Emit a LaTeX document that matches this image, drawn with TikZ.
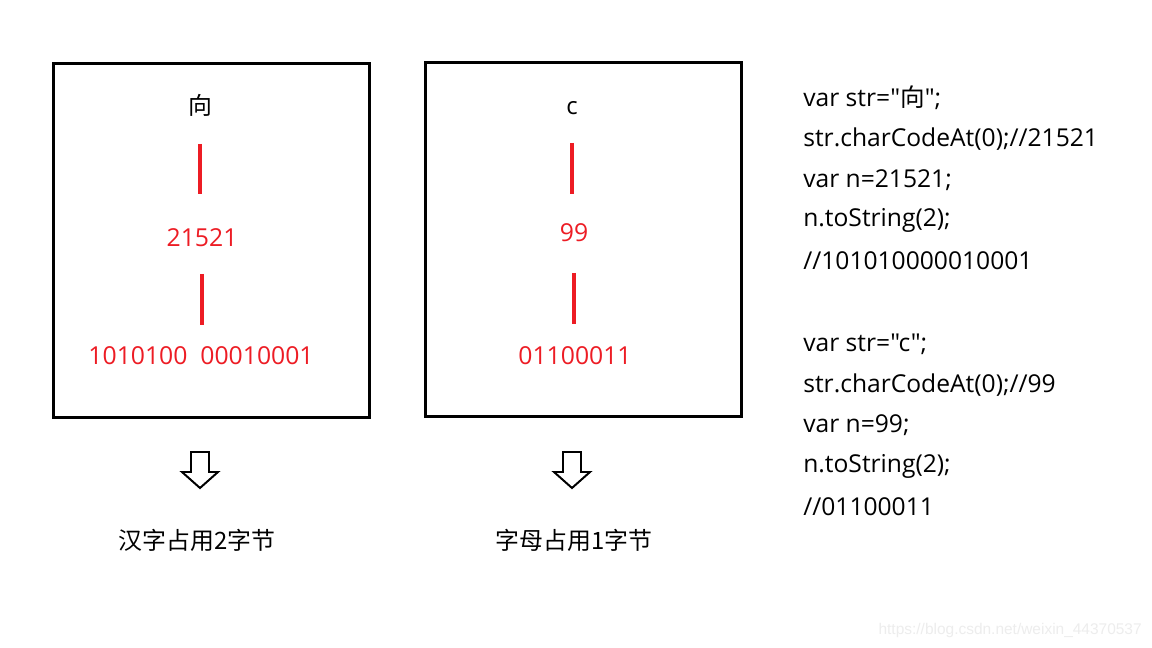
\documentclass[tikz,border=0pt]{standalone}
\usepackage{fontspec}
\setmainfont{Open Sans}[Ligatures=TeXOff]
\newfontfamily\cjk{Noto Sans CJK SC}
\newfontfamily\wmfont{Liberation Sans}
\definecolor{pred}{HTML}{ED1C24}
\definecolor{wm}{HTML}{EDEDED}
\begin{document}
\begin{tikzpicture}[x=0.025cm,y=-0.025cm,
  frame/.style={draw=black,line width=2.2pt},
  redtxt/.style={text=pred,font=\fontsize{17.6}{19}\selectfont,inner sep=0pt},
  blktxt/.style={text=black,font=\fontsize{17}{19}\selectfont,inner sep=0pt},
  cjktxt/.style={text=black,font=\cjk\fontsize{17}{19}\selectfont,inner sep=0pt},
  code/.style={text=black,font=\fontsize{17.5}{19}\selectfont,inner sep=0pt,anchor=west},
  redline/.style={draw=pred,line width=2.8pt},
  hollow/.style={draw=black,line width=1.4pt,fill=white,line join=miter}]
\useasboundingbox (0,0) rectangle (1152,648);
\fill[white] (0,0) rectangle (1152,648);
% boxes
\node[frame,minimum width=316*0.025cm,minimum height=354*0.025cm,anchor=north west,inner sep=0pt] (boxA) at (52,62) {};
\node[frame,minimum width=316*0.025cm,minimum height=354*0.025cm,anchor=north west,inner sep=0pt] (boxB) at (424,61) {};
% box A content
\node[cjktxt] (chA) at (200,105) {向};
\coordinate (a1) at (200,144); \coordinate (a2) at (200,194);
\draw[redline] (a1) -- (a2);
\node[redtxt] (numA) at (202,238) {21521};
\coordinate (a3) at (202,274); \coordinate (a4) at (202,325);
\draw[redline] (a3) -- (a4);
\node[redtxt] (binA) at (201,356) {1010100\ \ 00010001};
% box B content
\node[blktxt] (chB) at (572,108) {c};
\coordinate (b1) at (572,143); \coordinate (b2) at (572,194);
\draw[redline] (b1) -- (b2);
\node[redtxt] (numB) at (574,233) {99};
\coordinate (b3) at (574,273); \coordinate (b4) at (574,324);
\draw[redline] (b3) -- (b4);
\node[redtxt] (binB) at (575,356) {01100011};
% hollow arrows
\draw[hollow] (191,452) -- (209,452) -- (209,472) -- (218,472) -- (200,488) -- (182,472) -- (191,472) -- cycle;
\draw[hollow] (563,452) -- (581,452) -- (581,472) -- (590,472) -- (572,488) -- (554,472) -- (563,472) -- cycle;
% labels
\node[cjktxt] (labA) at (197,540) {汉字占用2字节};
\node[cjktxt] (labB) at (574,540) {字母占用1字节};
% code
\node[code] (c1) at (803,98) {var str="{\cjk 向}";};
\node[code] (c2) at (803,139) {str.charCodeAt(0);//21521};
\node[code] (c3) at (803,180) {var n=21521;};
\node[code] (c4) at (803,220) {n.toString(2);};
\node[code] (c5) at (803,261) {//101010000010001};
\node[code] (c6) at (803,344) {var str="c";};
\node[code] (c7) at (803,385) {str.charCodeAt(0);//99};
\node[code] (c8) at (803,425) {var n=99;};
\node[code] (c9) at (803,466) {n.toString(2);};
\node[code] (c10) at (803,507) {//01100011};
% watermark
\node[text=wm,font=\wmfont\fontsize{11}{13}\selectfont,inner sep=0pt,anchor=east] (wmk) at (1142,630) {https://blog.csdn.net/weixin\_44370537};
\end{tikzpicture}
\end{document}
